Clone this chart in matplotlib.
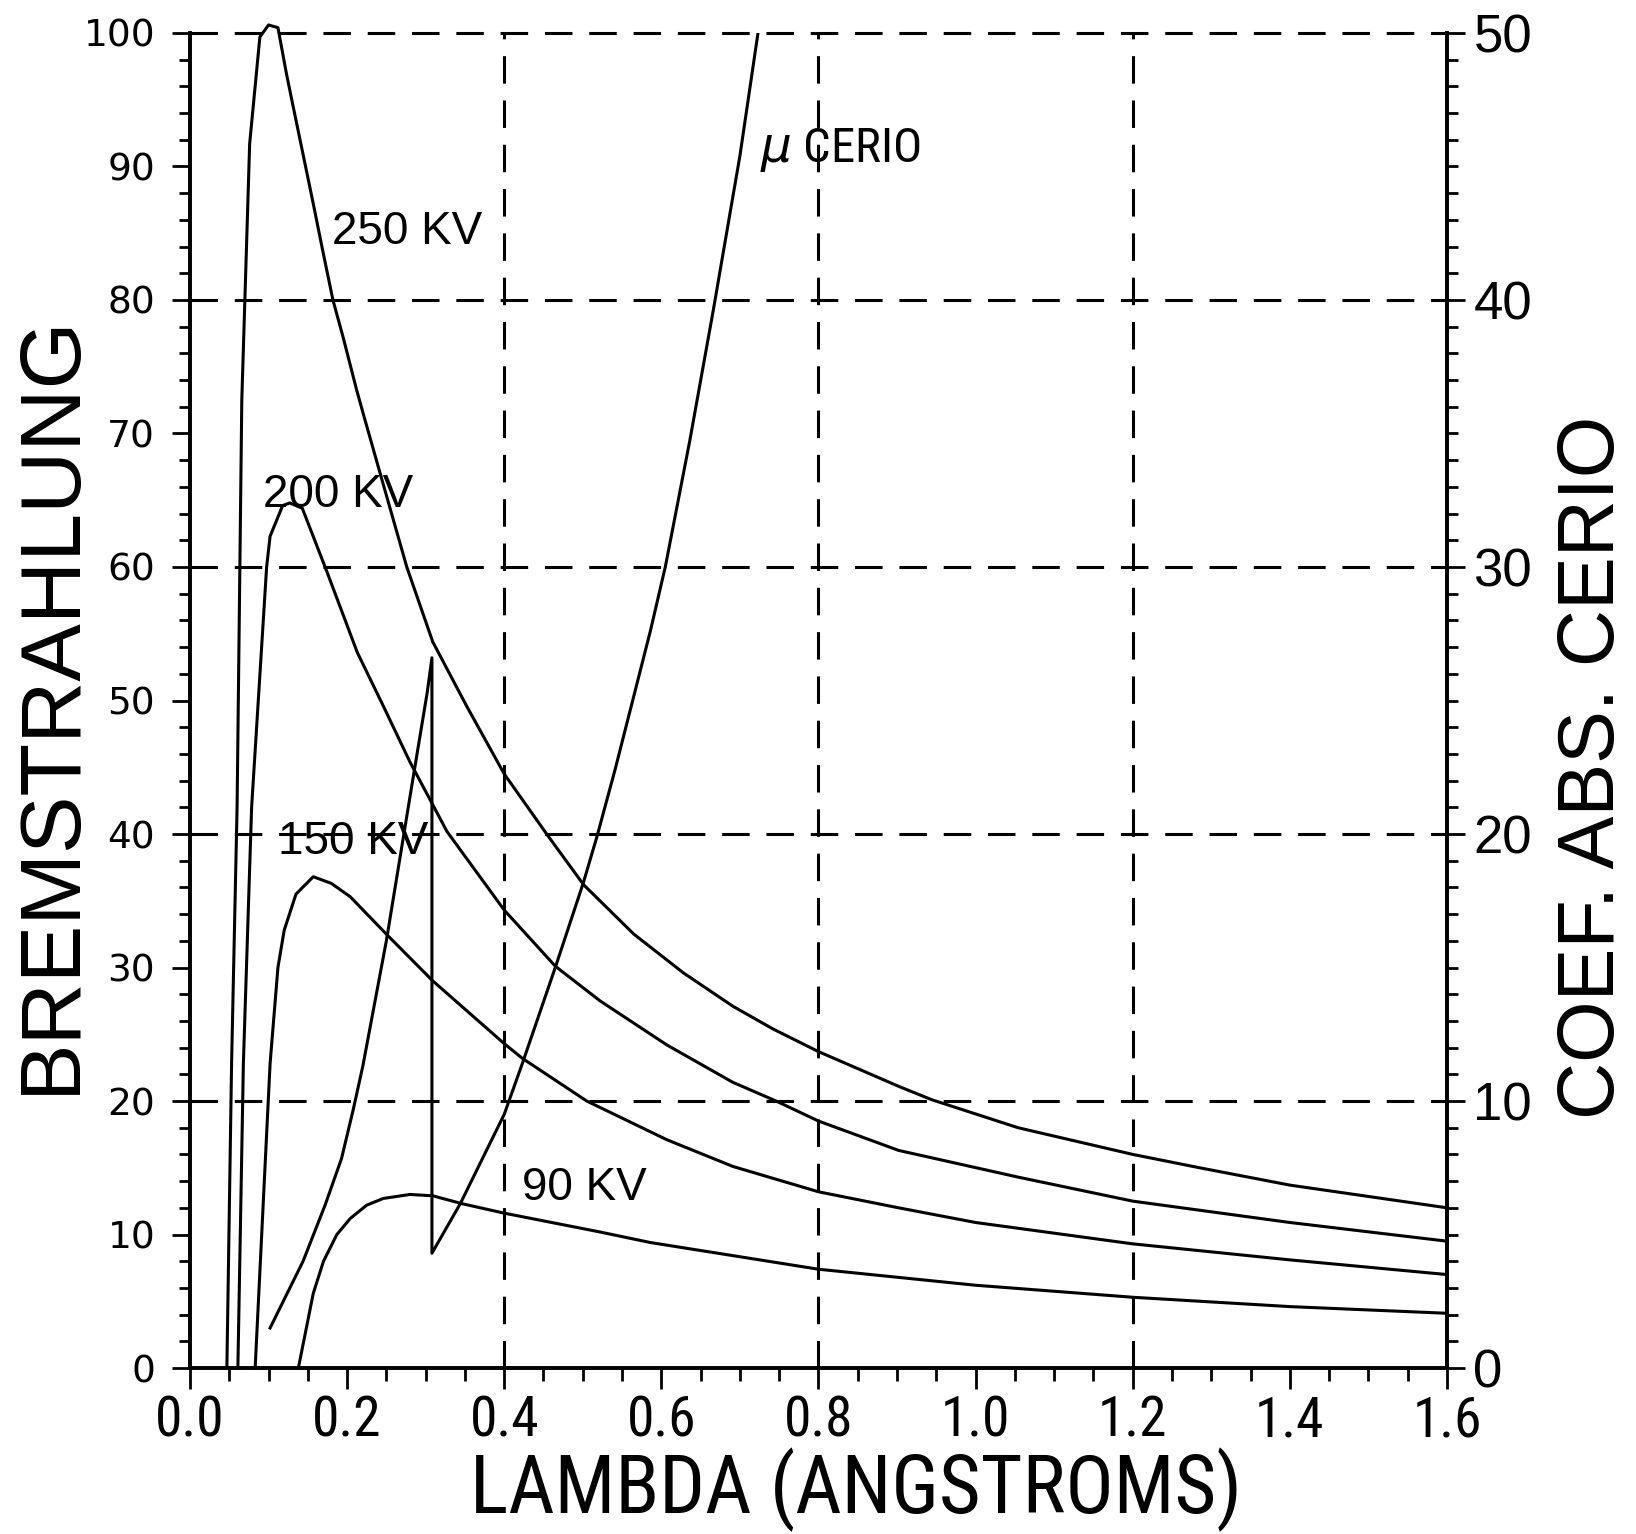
import matplotlib
matplotlib.use("Agg")
import matplotlib.pyplot as plt
from matplotlib import font_manager
from matplotlib.ticker import MultipleLocator, FormatStrFormatter

# bremsstrahlung spectra: wavelength (angstroms) vs relative intensity
lam_250 = [0.047, 0.053, 0.060, 0.066, 0.076, 0.089, 0.100, 0.112, 0.123, 0.131, 0.144,
           0.157, 0.169, 0.182, 0.195, 0.212, 0.220, 0.246, 0.276, 0.309, 0.352, 0.400,
           0.454, 0.501, 0.565, 0.628, 0.691, 0.742, 0.800, 0.902, 0.944, 1.054, 1.200,
           1.285, 1.400, 1.600]
int_250 = [0.0, 22.8, 42.0, 72.5, 91.7, 99.7, 100.6, 100.4, 96.9, 94.6, 90.9,
           87.2, 83.7, 80.0, 77.2, 73.3, 71.6, 66.2, 60.0, 54.4, 49.6, 44.5,
           40.0, 36.2, 32.5, 29.6, 27.1, 25.4, 23.7, 21.1, 20.1, 18.0, 16.0,
           15.0, 13.7, 12.0]

lam_200 = [0.061, 0.068, 0.0785, 0.0976, 0.102, 0.118, 0.127, 0.143, 0.174, 0.213, 0.246,
           0.280, 0.309, 0.327, 0.400, 0.465, 0.522, 0.607, 0.691, 0.746, 0.800, 0.902,
           1.054, 1.200, 1.400, 1.600]
int_200 = [0.0, 22.8, 42.0, 60.0, 62.3, 64.6, 64.8, 64.4, 59.7, 53.6, 49.6,
           45.4, 42.2, 40.2, 34.3, 30.1, 27.5, 24.2, 21.4, 20.0, 18.5, 16.3,
           14.3, 12.5, 10.9, 9.5]

lam_150 = [0.083, 0.102, 0.112, 0.120, 0.135, 0.157, 0.180, 0.204, 0.250, 0.309, 0.400,
           0.423, 0.505, 0.607, 0.691, 0.800, 0.902, 1.000, 1.200, 1.400, 1.600]
int_150 = [0.0, 22.8, 30.0, 32.8, 35.5, 36.8, 36.3, 35.3, 32.5, 29.0, 24.3,
           23.2, 20.0, 17.1, 15.1, 13.2, 12.0, 10.9, 9.3, 8.1, 7.0]

lam_90 = [0.138, 0.157, 0.170, 0.187, 0.204, 0.225, 0.246, 0.280, 0.309, 0.347, 0.400,
          0.521, 0.586, 0.800, 1.000, 1.200, 1.400, 1.600]
int_90 = [0.0, 5.6, 8.0, 10.0, 11.2, 12.2, 12.7, 13.0, 12.9, 12.3, 11.6,
          10.2, 9.4, 7.4, 6.2, 5.3, 4.6, 4.1]

# cerium absorption coefficient (right axis), K edge near 0.308 A
mu_lam = [0.102, 0.144, 0.172, 0.193, 0.208, 0.220, 0.250, 0.284, 0.302, 0.308,
          0.308, 0.344, 0.400, 0.423, 0.465, 0.501, 0.518, 0.541, 0.586, 0.605,
          0.636, 0.666, 0.700, 0.723]
mu_cerio = [1.5, 4.0, 6.1, 7.85, 9.7, 11.3, 16.0, 22.1, 25.3, 26.6,
            4.3, 6.15, 9.5, 11.4, 15.0, 18.2, 19.9, 22.4, 27.6, 30.0,
            34.7, 39.6, 45.4, 50.0]

curve_names = ["250 KV", "200 KV", "150 KV", "90 KV"]
grid_x = [0.4, 0.8, 1.2]
grid_y = [20, 40, 60, 80, 100]

plt.rcParams['font.family'] = ['Liberation Sans', 'DejaVu Sans']

# the scan uses a tall narrow lettering on the x axis; take a condensed face if one exists
avail = {f.name for f in font_manager.fontManager.ttflist}
narrow = None
for cand in ['Liberation Sans Narrow', 'Noto Sans Condensed', 'Roboto Condensed',
             'Open Sans Condensed', 'DejaVu Sans Condensed', 'Noto Sans SemiCondensed']:
    if cand in avail:
        narrow = cand
        break
if narrow:
    narrow_fam = [narrow, 'Liberation Sans', 'DejaVu Sans']
    xlab_size, xtick_size, mu_size = 58, 40, 35
else:
    narrow_fam = ['Liberation Sans', 'DejaVu Sans']
    xlab_size, xtick_size, mu_size = 48, 36, 30

fig = plt.figure(figsize=(16.36, 15.34), dpi=100)
ax = fig.add_axes([0.1161, 0.1082, 0.7684, 0.8703])
ax2 = ax.twinx()

for v in grid_x:
    ax.axvline(v, color='black', lw=2.2, dashes=(9, 5.5), zorder=1)
for v in grid_y:
    ax.axhline(v, color='black', lw=2.2, dashes=(9, 5.5), zorder=1, clip_on=False)

for lam, val in [(lam_250, int_250), (lam_200, int_200), (lam_150, int_150), (lam_90, int_90)]:
    ax.plot(lam, val, color='black', lw=2.2, zorder=3, clip_on=False)
ax2.plot(mu_lam, mu_cerio, color='black', lw=2.2, zorder=3)

# curve labels
label_xy = [(0.181, 84.2), (0.093, 64.5), (0.112, 38.5), (0.423, 12.6)]
for name, (x, y) in zip(curve_names, label_xy):
    ax.text(x, y, name, fontsize=33, ha='left', va='baseline', zorder=4)
ax.text(0.7256, 90.3, r'$\mu$ CERIO', fontsize=mu_size, family=narrow_fam,
        ha='left', va='baseline', zorder=4)

ax.set_xlim(0, 1.6)
ax.set_ylim(0, 100)
ax2.set_ylim(0, 50)

ax.xaxis.set_major_locator(MultipleLocator(0.2))
ax.xaxis.set_minor_locator(MultipleLocator(0.05))
ax.xaxis.set_major_formatter(FormatStrFormatter('%.1f'))
ax.yaxis.set_major_locator(MultipleLocator(10))
ax.yaxis.set_minor_locator(MultipleLocator(2))
ax2.yaxis.set_major_locator(MultipleLocator(10))
ax2.yaxis.set_minor_locator(MultipleLocator(1))

for a in (ax, ax2):
    for side in ('left', 'right', 'bottom'):
        a.spines[side].set_linewidth(2.6)
    a.spines['top'].set_visible(False)

ax.tick_params(axis='x', which='major', direction='out', length=15, width=2, pad=4)
ax.tick_params(axis='x', which='minor', direction='out', length=9, width=2)
ax.tick_params(axis='y', which='major', direction='out', length=13, width=2, pad=12)
ax.tick_params(axis='y', which='minor', direction='out', length=8, width=2)
ax2.tick_params(axis='y', which='major', direction='out', length=13, width=2, pad=6)
ax2.tick_params(axis='y', which='minor', direction='out', length=8, width=2)

for lbl in ax.get_xticklabels():
    lbl.set_fontfamily(narrow_fam)
    lbl.set_fontsize(xtick_size)
for lbl in ax.get_yticklabels():
    lbl.set_fontfamily('DejaVu Sans')
    lbl.set_fontsize(27)
for lbl in ax2.get_yticklabels():
    lbl.set_fontsize(38)

fig.text(0.0318, 0.541, 'BREMSTRAHLUNG', rotation=90, fontsize=62,
         ha='center', va='center')
fig.text(0.974, 0.50, 'COEF. ABS. CERIO', rotation=90, fontsize=57,
         ha='center', va='center')
fig.text(0.523, 0.0287, 'LAMBDA (ANGSTROMS)', fontsize=xlab_size, family=narrow_fam,
         ha='center', va='center')

fig.savefig('out.png', dpi=100)
